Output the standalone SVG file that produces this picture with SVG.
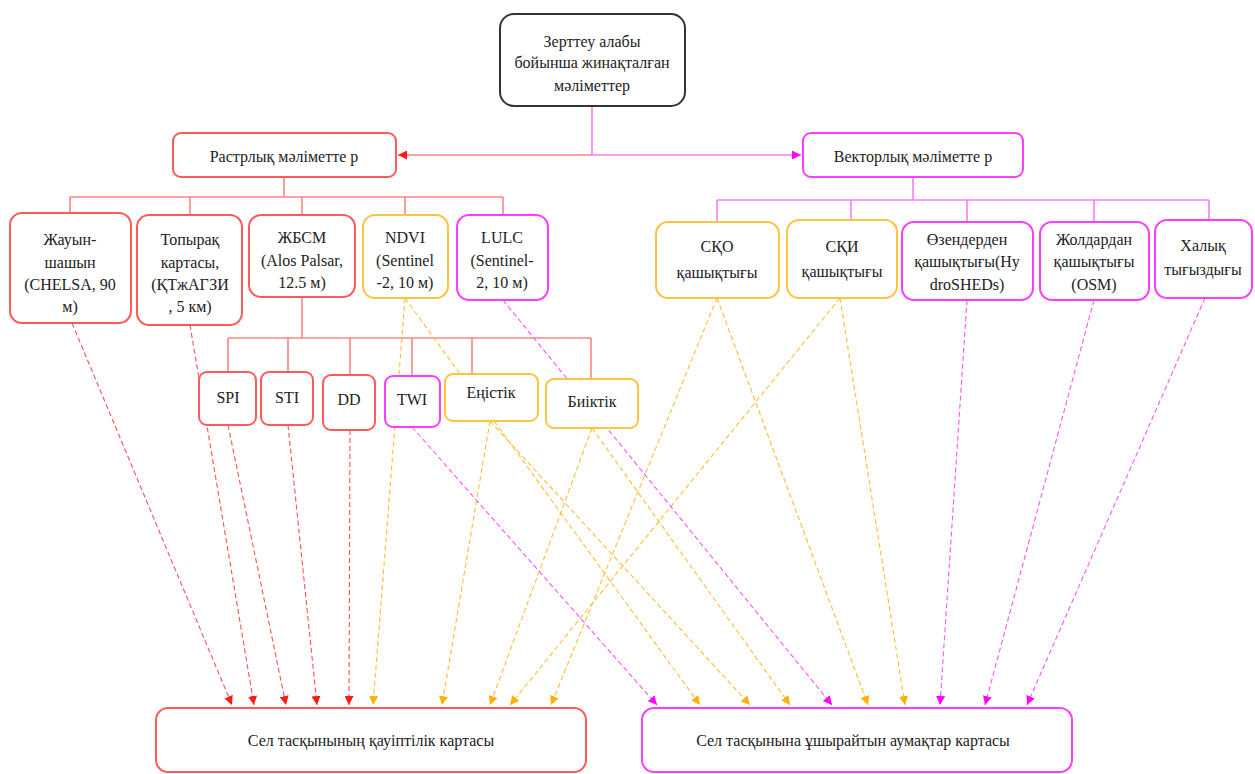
<svg xmlns="http://www.w3.org/2000/svg" width="1255" height="774" viewBox="0 0 1255 774">
<style>
text{font-family:"Liberation Serif","DejaVu Serif Condensed","DejaVu Serif",serif;font-size:16px;fill:#222;text-anchor:middle}
rect{fill:#fff;stroke-width:2}
.k{stroke:#333}
.r{stroke:#ff5a5a}
.o{stroke:#ffc43d}
.m{stroke:#ff3cff}
.bus{fill:none;stroke-width:1.6}
.br{stroke:#ff8585}
.bm{stroke:#ff7aff}
.d{fill:none;stroke-width:1.1;stroke-dasharray:5 3}
.dr{stroke:#ff5050}
.do{stroke:#ffbe3a}
.dm{stroke:#ff55ff}
</style>
<defs>
<marker id="ar" viewBox="0 0 10 10" refX="10" refY="5" markerWidth="9" markerHeight="9" markerUnits="userSpaceOnUse" orient="auto"><path d="M0,0L10,5L0,10z" fill="#ff1a1a"/></marker>
<marker id="ao" viewBox="0 0 10 10" refX="10" refY="5" markerWidth="9" markerHeight="9" markerUnits="userSpaceOnUse" orient="auto"><path d="M0,0L10,5L0,10z" fill="#ffb000"/></marker>
<marker id="am" viewBox="0 0 10 10" refX="10" refY="5" markerWidth="9" markerHeight="9" markerUnits="userSpaceOnUse" orient="auto"><path d="M0,0L10,5L0,10z" fill="#ff00ff"/></marker>
</defs>
<g id="connectors">
<path class="bus bm" d="M592,106V155"/>
<path class="bus br" d="M592,155H398" stroke-width="3" marker-end="url(#ar)"/>
<path class="bus bm" d="M592,155H801" marker-end="url(#am)"/>
<path class="bus br" d="M284,177V197M70,197H503M70,197V213M190,197V215M302,197V215M405,197V215M503,197V215"/>
<path class="bus bm" d="M913,177V200M717,200H1209M717,200V222M851,200V220M967,200V222M1094,200V222M1209,200V220"/>
<path class="bus br" stroke-width="2.2" d="M302,297V338M228,338H591M228,338V372M288,338V372M350,338V375M412,338V376M472,338V374M591,338V379"/>
<g class="d dr">
<path d="M72,323L232,705" marker-end="url(#ar)"/>
<path d="M190,325L254,705" marker-end="url(#ar)"/>
<path d="M228,425L286,705" marker-end="url(#ar)"/>
<path d="M288,425L317,705" marker-end="url(#ar)"/>
<path d="M350,430L349,705" marker-end="url(#ar)"/>
</g>
<g class="d do">
<path d="M405,298L373,705" marker-end="url(#ao)"/>
<path d="M405,298L700,705" marker-end="url(#ao)"/>
<path d="M490,421L442,705" marker-end="url(#ao)"/>
<path d="M490,421L750,705" marker-end="url(#ao)"/>
<path d="M592,428L490,705" marker-end="url(#ao)"/>
<path d="M592,428L790,705" marker-end="url(#ao)"/>
<path d="M717,298L551,705" marker-end="url(#ao)"/>
<path d="M717,298L868,705" marker-end="url(#ao)"/>
<path d="M840,298L510,705" marker-end="url(#ao)"/>
<path d="M840,298L905,705" marker-end="url(#ao)"/>
</g>
<g class="d dm">
<path d="M412,427L657,705" marker-end="url(#am)"/>
<path d="M503,300L832,705" marker-end="url(#am)"/>
<path d="M967,300L940,705" marker-end="url(#am)"/>
<path d="M1094,300L985,705" marker-end="url(#am)"/>
<path d="M1205,298L1027,705" marker-end="url(#am)"/>
</g>
</g>
<g id="n-top"><rect class="k" x="500" y="14" width="185" height="92" rx="14"/><text x="592" y="47">Зерттеу алабы</text><text x="592" y="68">бойынша жинақталған</text><text x="592" y="91">мәліметтер</text></g>
<g id="n-raster"><rect class="r" x="173" y="133" width="223" height="44" rx="8"/><text x="284" y="162">Растрлық мәліметте р</text></g>
<g id="n-vector"><rect class="m" x="803" y="133" width="220" height="44" rx="8"/><text x="913" y="162">Векторлық мәліметте р</text></g>
<g id="n-precip"><rect class="r" x="10" y="213" width="121" height="110" rx="12"/><text x="70" y="245">Жауын-</text><text x="70" y="268">шашын</text><text x="70" y="290">(CHELSA, 90</text><text x="70" y="312">м)</text></g>
<g id="n-soil"><rect class="r" x="137" y="215" width="105" height="110" rx="12"/><text x="190" y="245">Топырақ</text><text x="190" y="268">картасы,</text><text x="190" y="290">(ҚТжАГЗИ</text><text x="190" y="312">, 5 км)</text></g>
<g id="n-dem"><rect class="r" x="249" y="215" width="106" height="82" rx="12"/><text x="302" y="243">ЖБСМ</text><text x="302" y="266">(Alos Palsar,</text><text x="302" y="288">12.5 м)</text></g>
<g id="n-ndvi"><rect class="o" x="363" y="215" width="85" height="83" rx="12"/><text x="405" y="243">NDVI</text><text x="405" y="266">(Sentinel</text><text x="405" y="288">-2, 10 м)</text></g>
<g id="n-lulc"><rect class="m" x="457" y="215" width="91" height="85" rx="12"/><text x="502" y="243">LULC</text><text x="502" y="266">(Sentinel-</text><text x="502" y="288">2, 10 м)</text></g>
<g id="n-sko"><rect class="o" x="656" y="222" width="123" height="76" rx="12"/><text x="717" y="252">СҚО</text><text x="717" y="278">қашықтығы</text></g>
<g id="n-ski"><rect class="o" x="787" y="220" width="110" height="78" rx="12"/><text x="842" y="252">СҚИ</text><text x="842" y="277">қашықтығы</text></g>
<g id="n-river"><rect class="m" x="902" y="222" width="131" height="78" rx="12"/><text x="967" y="245">Өзендерден</text><text x="967" y="267">қашықтығы(Hy</text><text x="967" y="290">droSHEDs)</text></g>
<g id="n-road"><rect class="m" x="1040" y="222" width="109" height="78" rx="12"/><text x="1094" y="245">Жолдардан</text><text x="1094" y="267">қашықтығы</text><text x="1094" y="290">(OSM)</text></g>
<g id="n-pop"><rect class="m" x="1155" y="220" width="97" height="78" rx="12"/><text x="1203" y="251">Халық</text><text x="1203" y="275">тығыздығы</text></g>
<g id="n-spi"><rect class="r" x="199" y="372" width="57" height="53" rx="8"/><text x="228" y="403">SPI</text></g>
<g id="n-sti"><rect class="r" x="261" y="372" width="52" height="53" rx="8"/><text x="287" y="403">STI</text></g>
<g id="n-dd"><rect class="r" x="323" y="375" width="52" height="55" rx="8"/><text x="349" y="405">DD</text></g>
<g id="n-twi"><rect class="m" x="385" y="376" width="55" height="51" rx="8"/><text x="412" y="405">TWI</text></g>
<g id="n-slope"><rect class="o" x="445" y="374" width="93" height="47" rx="8"/><text x="491" y="398">Еңістік</text></g>
<g id="n-elev"><rect class="o" x="546" y="379" width="92" height="49" rx="8"/><text x="592" y="407">Биіктік</text></g>
<g id="n-hazard"><rect class="r" x="156" y="708" width="430" height="64" rx="12"/><text x="371" y="746">Сел тасқынының қауіптілік картасы</text></g>
<g id="n-exposed"><rect class="m" x="642" y="708" width="430" height="64" rx="12"/><text x="853" y="746">Сел тасқынына ұшырайтын аумақтар картасы</text></g>
</svg>
